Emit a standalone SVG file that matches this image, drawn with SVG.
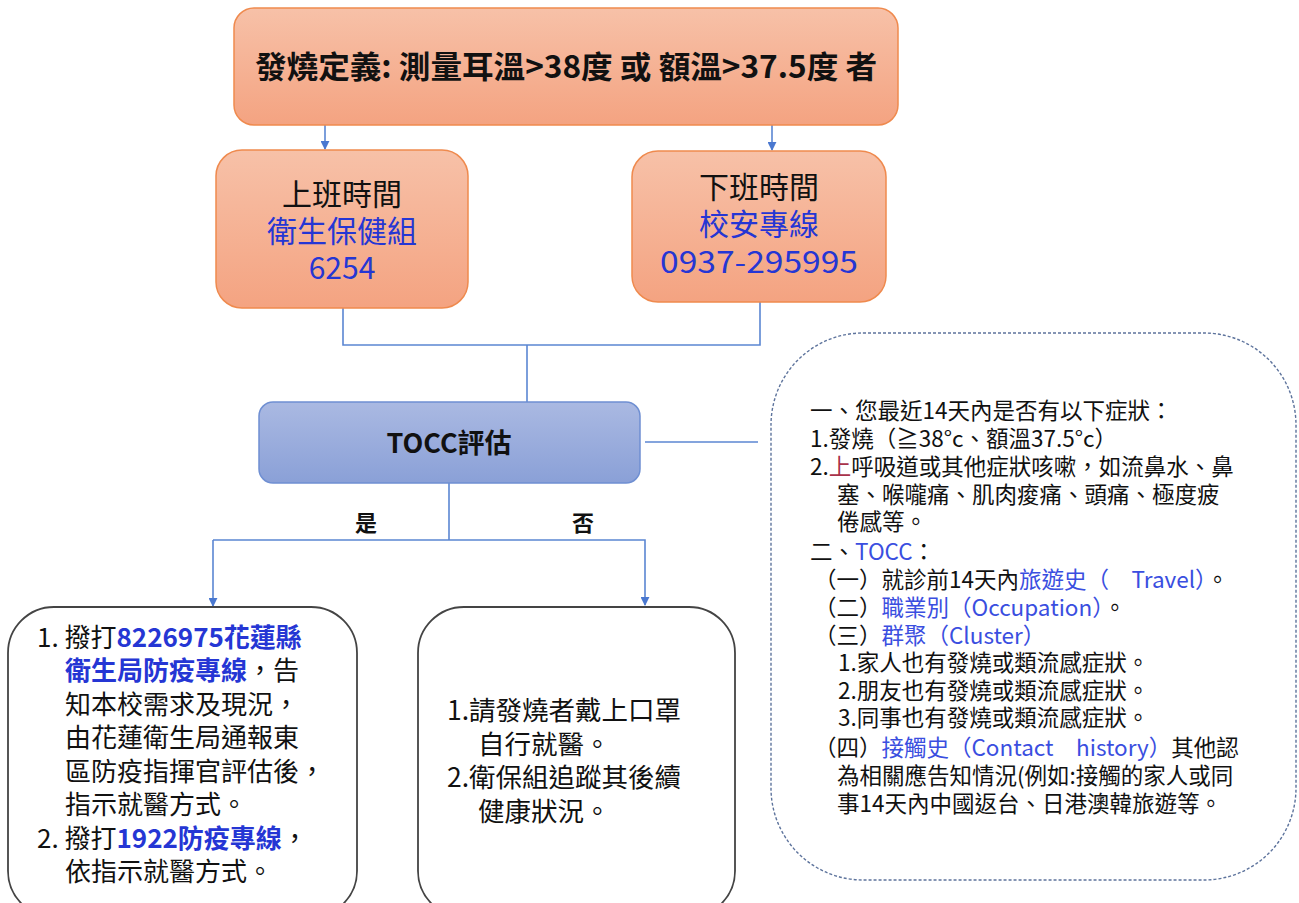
<svg xmlns="http://www.w3.org/2000/svg" width="1299" height="903" viewBox="0 0 1299 903">
<defs>
<linearGradient id="og" x1="0" y1="0" x2="0" y2="1"><stop offset="0" stop-color="#f7c1a8"/><stop offset="1" stop-color="#f4a381"/></linearGradient>
<linearGradient id="bg" x1="0" y1="0" x2="0" y2="1"><stop offset="0" stop-color="#aab9e2"/><stop offset="1" stop-color="#8aa0d7"/></linearGradient>
<marker id="ah" viewBox="0 0 10 10" refX="9" refY="5" markerWidth="9" markerHeight="9" markerUnits="userSpaceOnUse" orient="auto"><path d="M0,0 L10,5 L0,10 z" fill="#4a78d0"/></marker>
<style>
text{font-family:"Noto Sans CJK TC","Noto Sans",sans-serif;}
.o{fill:url(#og);stroke:#ef8a4e;stroke-width:1.5;}
.b{fill:url(#bg);stroke:#6f8fd2;stroke-width:1.5;}
.w{fill:#fff;stroke:#444;stroke-width:1.8;}
.d{fill:#fff;stroke:#5d739c;stroke-width:1.4;stroke-dasharray:3 2;}
.c{fill:none;stroke:#5b86d2;stroke-width:1.6;}
.k{fill:#111;}
.u{fill:#2536d4;}
.u2{fill:#3a4ee0;}
.r{fill:#a8324a;}
</style>
</defs>
<g id="connectors">
<line class="c" x1="325" y1="125" x2="325" y2="149" marker-end="url(#ah)"/>
<line class="c" x1="772" y1="125" x2="772" y2="150" marker-end="url(#ah)"/>
<polyline class="c" points="343,308 343,345 760,345 760,302"/>
<line class="c" x1="527" y1="345" x2="527" y2="402"/>
<line class="c" x1="645" y1="442" x2="758" y2="442"/>
<line class="c" x1="449" y1="483" x2="449" y2="540"/>
<polyline class="c" points="213,540 645,540 645,605" marker-end="url(#ah)"/>
<line class="c" x1="213" y1="540" x2="213" y2="606" marker-end="url(#ah)"/>
</g>
<g id="lbl-yes"><text x="366" y="531" font-size="22" font-weight="bold" text-anchor="middle" class="k">是</text></g>
<g id="lbl-no"><text x="583" y="531" font-size="22" font-weight="bold" text-anchor="middle" class="k">否</text></g>
<g id="fever-def">
<rect class="o" x="234" y="8" width="664" height="117" rx="20"/>
<text x="566" y="78" font-size="31" font-weight="bold" text-anchor="middle" class="k" textLength="622" lengthAdjust="spacingAndGlyphs">發燒定義: 測量耳溫&gt;38度 或 額溫&gt;37.5度 者</text>
</g>
<g id="work-hours">
<rect class="o" x="216" y="150" width="252" height="158" rx="26"/>
<text x="342" y="205" font-size="30" text-anchor="middle" class="k">上班時間</text>
<text x="342" y="242" font-size="30" text-anchor="middle" class="u">衛生保健組</text>
<text x="342" y="279" font-size="30" text-anchor="middle" class="u">6254</text>
</g>
<g id="off-hours">
<rect class="o" x="632" y="151" width="254" height="151" rx="26"/>
<text x="759" y="198" font-size="30" text-anchor="middle" class="k">下班時間</text>
<text x="759" y="235" font-size="30" text-anchor="middle" class="u">校安專線</text>
<text x="759" y="273" font-size="30" text-anchor="middle" class="u" textLength="198" lengthAdjust="spacingAndGlyphs">0937-295995</text>
</g>
<g id="tocc">
<rect class="b" x="259" y="402" width="381" height="81" rx="14"/>
<text x="449" y="453" font-size="27" font-weight="bold" text-anchor="middle" class="k">TOCC評估</text>
</g>
<g id="yes-box">
<rect class="w" x="8" y="607" width="349" height="310" rx="46"/>
<g font-size="26">
<text x="37" y="647"><tspan class="k">1. 撥打</tspan><tspan class="u" font-weight="bold">8226975花蓮縣</tspan></text>
<text x="65" y="680"><tspan class="u" font-weight="bold">衛生局防疫專線</tspan><tspan class="k">，告</tspan></text>
<text x="65" y="714" class="k">知本校需求及現況，</text>
<text x="65" y="747" class="k">由花蓮衛生局通報東</text>
<text x="65" y="781" class="k">區防疫指揮官評估後，</text>
<text x="65" y="814" class="k">指示就醫方式。</text>
<text x="37" y="848"><tspan class="k">2. 撥打</tspan><tspan class="u" font-weight="bold">1922防疫專線</tspan><tspan class="k">，</tspan></text>
<text x="65" y="881" class="k">依指示就醫方式。</text>
</g>
</g>
<g id="no-box">
<rect class="w" x="418" y="607" width="317" height="310" rx="46"/>
<g font-size="26.5" class="k">
<text x="447" y="720">1.請發燒者戴上口罩</text>
<text x="478" y="754">自行就醫。</text>
<text x="447" y="787">2.衛保組追蹤其後續</text>
<text x="478" y="821">健康狀況。</text>
</g>
</g>
<g id="symptom-box">
<rect class="d" x="771" y="333" width="525" height="547" rx="92"/>
<g font-size="22.5">
<text x="810" y="419" class="k">一、您最近14天內是否有以下症狀：</text>
<text x="810" y="447" class="k">1.發燒（≧38°c、額溫37.5°c）</text>
<text x="810" y="475"><tspan class="k">2.</tspan><tspan class="r">上</tspan><tspan class="k">呼吸道或其他症狀咳嗽，如流鼻水、鼻</tspan></text>
<text x="837" y="503" class="k">塞、喉嚨痛、肌肉痠痛、頭痛、極度疲</text>
<text x="837" y="530" class="k">倦感等。</text>
<text x="810" y="560"><tspan class="k">二、</tspan><tspan class="u2">TOCC</tspan><tspan class="k">：</tspan></text>
<text x="814" y="588"><tspan class="k">（一）就診前14天內</tspan><tspan class="u2">旅遊史（　Travel）</tspan><tspan class="k">。</tspan></text>
<text x="814" y="616"><tspan class="k">（二）</tspan><tspan class="u2">職業別（Occupation）</tspan><tspan class="k">。</tspan></text>
<text x="814" y="644"><tspan class="k">（三）</tspan><tspan class="u2">群聚（Cluster）</tspan></text>
<text x="838" y="671" class="k">1.家人也有發燒或類流感症狀。</text>
<text x="838" y="699" class="k">2.朋友也有發燒或類流感症狀。</text>
<text x="838" y="726" class="k">3.同事也有發燒或類流感症狀。</text>
<text x="814" y="756"><tspan class="k">（四）</tspan><tspan class="u2">接觸史（Contact　history）</tspan><tspan class="k">其他認</tspan></text>
<text x="837" y="784" class="k">為相關應告知情況(例如:接觸的家人或同</text>
<text x="837" y="812" class="k">事14天內中國返台、日港澳韓旅遊等。</text>
</g>
</g>
</svg>
